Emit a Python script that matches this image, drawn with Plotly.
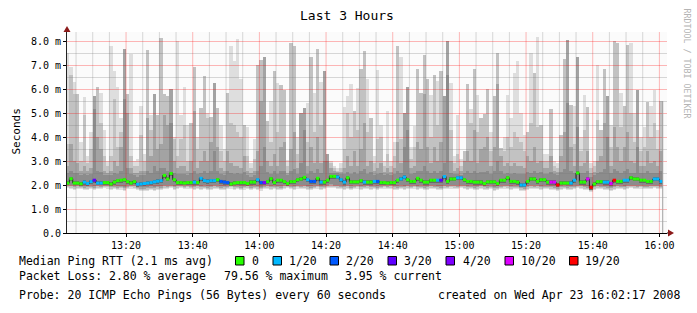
import datetime as dt
import plotly.graph_objects as go

# ---------------- data ----------------
bin_start = dt.datetime(2008, 4, 23, 13, 2, 0)       # first one-minute bin
view_start = dt.datetime(2008, 4, 23, 13, 2, 17)
view_end = dt.datetime(2008, 4, 23, 16, 2, 17)

# lightest smoke top (max ping), ms
ping_max = [7.5, 6.9, 6.3, 5.8, 3.8, 5.65, 3.2, 4.2, 5.7, 6.1,
            5.85, 4.3, 3.0, 7.8, 6.75, 6.1, 4.8, 7.67, 5.8, 7.45,
            3.0, 3.1, 5.3, 3.3, 7.64, 4.9, 5.8, 4.9, 8.12, 5.8,
            5.7, 6.0, 4.0, 8.0, 4.9, 6.1, 4.5, 4.6, 6.9, 4.0,
            5.2, 6.55, 5.0, 4.85, 6.25, 5.2, 4.5, 3.5, 5.85, 7.8,
            7.15, 8.1, 6.4, 4.5, 4.4, 2.9, 3.9, 7.0, 7.2, 7.33,
            4.65, 5.5, 6.75, 6.25, 6.15, 5.95, 3.05, 7.9, 7.8, 4.0,
            5.0, 5.2, 5.4, 7.35, 5.85, 7.65, 6.3, 6.75, 3.3, 3.0,
            2.8, 2.7, 2.9, 5.25, 5.7, 6.2, 5.1, 6.05, 6.85, 7.6,
            6.4, 4.8, 3.2, 6.8, 4.5, 3.0, 5.1, 3.0, 3.8, 7.8,
            7.35, 5.0, 6.1, 3.6, 4.45, 6.85, 5.85, 7.4, 6.4, 5.75,
            6.6, 6.35, 6.75, 5.7, 8.0, 6.25, 3.2, 4.9, 3.1, 3.4,
            6.2, 5.15, 6.85, 5.75, 4.8, 4.95, 6.0, 4.2, 5.7, 7.5,
            3.55, 4.0, 5.75, 4.8, 6.65, 7.15, 5.0, 4.1, 4.2, 7.5,
            6.65, 8.15, 4.5, 3.3, 3.3, 5.15, 3.0, 2.9, 4.1, 7.25,
            8.05, 5.35, 5.3, 7.35, 4.0, 5.75, 5.25, 2.9, 3.0, 7.0,
            4.3, 6.85, 5.7, 4.5, 8.0, 7.9, 5.85, 5.3, 7.85, 7.9,
            5.0, 5.95, 4.0, 4.4, 5.45, 5.3, 5.95, 4.3, 5.5]

# second smoke level top, ms
ping_q2 = [3.7, 6.6, 5.8, 5.8, 3.0, 4.9, 2.9, 3.5, 5.7, 6.1,
           4.6, 3.2, 2.8, 3.2, 5.6, 3.6, 4.2, 7.67, 5.8, 3.2,
           2.8, 2.8, 4.1, 3.0, 7.64, 4.3, 5.8, 4.9, 8.12, 5.8,
           5.7, 6.0, 3.9, 3.2, 3.9, 4.5, 3.0, 4.6, 6.9, 3.5,
           5.2, 6.55, 4.8, 4.85, 6.25, 5.2, 3.4, 3.0, 5.85, 4.6,
           4.5, 4.2, 4.0, 4.5, 3.2, 2.7, 3.1, 7.0, 7.2, 7.33,
           4.65, 3.8, 6.75, 4.2, 6.15, 5.95, 2.8, 7.9, 7.8, 3.3,
           5.0, 5.2, 3.8, 7.35, 4.2, 7.65, 4.5, 6.75, 3.3, 2.9,
           2.7, 2.6, 2.7, 3.5, 5.0, 4.0, 5.1, 4.3, 6.85, 7.6,
           4.2, 4.8, 2.9, 3.9, 4.0, 2.8, 3.3, 2.8, 3.2, 7.8,
           3.9, 5.0, 6.1, 3.1, 3.6, 6.85, 5.85, 7.4, 6.4, 4.0,
           6.6, 4.5, 6.75, 5.7, 8.0, 4.3, 2.9, 3.3, 2.8, 3.4,
           6.2, 4.6, 6.85, 4.2, 4.8, 4.95, 6.0, 3.4, 5.7, 7.5,
           3.55, 3.4, 4.0, 3.6, 4.2, 4.0, 3.8, 3.4, 4.2, 4.6,
           6.65, 4.4, 4.5, 3.0, 3.0, 5.15, 2.8, 2.7, 4.1, 7.25,
           8.05, 5.35, 3.7, 7.35, 3.4, 4.3, 5.25, 2.7, 2.8, 4.7,
           4.3, 6.85, 5.7, 3.6, 8.0, 7.9, 4.4, 5.3, 7.85, 5.0,
           3.8, 5.95, 3.4, 3.6, 5.45, 4.0, 4.6, 3.5, 5.5]

# third smoke level top, ms
ping_q3 = [2.8, 3.7, 3.0, 2.9, 2.6, 2.8, 2.6, 2.7, 5.7, 4.0,
           3.5, 2.6, 2.5, 2.6, 3.0, 2.8, 3.6, 7.67, 5.0, 2.7,
           2.5, 2.5, 2.6, 2.6, 4.8, 3.2, 5.8, 3.5, 3.7, 4.9,
           4.5, 6.0, 3.0, 2.7, 2.8, 2.8, 2.6, 3.0, 5.1, 2.7,
           3.0, 3.4, 3.0, 3.8, 6.25, 3.6, 2.7, 2.6, 3.4, 2.9,
           2.8, 2.8, 2.7, 3.2, 2.6, 2.5, 2.6, 3.4, 5.5, 7.33,
           3.0, 2.8, 3.3, 2.8, 3.6, 3.8, 2.5, 3.5, 4.2, 2.7,
           5.0, 5.2, 2.8, 3.6, 2.9, 4.0, 2.9, 6.75, 3.3, 2.7,
           2.6, 2.55, 2.55, 2.7, 3.2, 2.8, 3.4, 2.8, 3.5, 4.6,
           2.8, 3.0, 2.6, 2.7, 2.9, 2.55, 2.7, 2.55, 2.7, 3.8,
           2.9, 5.0, 6.1, 2.7, 2.8, 3.8, 3.5, 5.8, 3.6, 2.9,
           3.6, 3.0, 3.8, 5.7, 8.0, 3.0, 2.6, 2.7, 2.6, 3.0,
           3.4, 3.0, 4.3, 2.9, 3.5, 3.6, 4.0, 2.8, 3.6, 6.2,
           3.2, 2.8, 2.9, 2.8, 2.9, 2.8, 2.8, 2.7, 3.2, 3.0,
           3.6, 2.9, 3.0, 2.7, 2.7, 3.2, 2.6, 2.55, 3.2, 4.2,
           8.05, 3.6, 2.8, 7.35, 2.8, 2.9, 3.4, 2.5, 2.55, 3.0,
           3.2, 4.6, 5.7, 2.8, 4.4, 3.6, 3.0, 3.6, 4.2, 3.0,
           2.9, 5.95, 2.8, 2.8, 3.4, 2.9, 3.0, 2.8, 3.4]

# darkest smoke level top, ms
ping_q4 = [2.5, 2.6, 2.5, 2.5, 2.4, 2.45, 2.4, 2.45, 5.15, 2.6,
           2.55, 2.4, 2.4, 2.4, 2.5, 2.45, 2.6, 5.6, 2.7, 2.45,
           2.4, 2.35, 2.4, 2.4, 2.6, 2.5, 2.8, 2.6, 2.7, 2.7,
           2.6, 4.6, 2.5, 2.45, 2.45, 2.45, 2.4, 2.5, 2.6, 2.45,
           2.5, 2.6, 2.5, 2.6, 3.4, 2.6, 2.45, 2.4, 2.6, 2.5,
           2.45, 2.5, 2.45, 2.55, 2.4, 2.35, 2.4, 2.6, 2.8, 3.6,
           2.55, 2.45, 2.6, 2.45, 2.6, 2.6, 2.4, 2.6, 2.65, 2.45,
           2.9, 4.3, 2.45, 2.6, 2.5, 2.65, 2.5, 3.0, 3.0, 2.5,
           2.5, 2.5, 2.45, 2.45, 2.55, 2.45, 2.55, 2.45, 2.6, 2.65,
           2.45, 2.55, 2.4, 2.45, 2.5, 2.4, 2.45, 2.4, 2.45, 2.6,
           2.5, 3.6, 4.3, 2.45, 2.5, 2.6, 2.6, 2.8, 2.6, 2.5,
           2.6, 2.5, 2.6, 2.9, 6.6, 2.5, 2.45, 2.45, 2.4, 2.5,
           2.6, 2.5, 2.6, 2.5, 2.55, 2.55, 2.6, 2.45, 2.6, 3.0,
           2.6, 2.45, 2.5, 2.45, 2.5, 2.45, 2.45, 2.45, 2.55, 2.5,
           2.6, 2.5, 2.55, 2.45, 2.45, 2.55, 2.45, 2.4, 2.55, 2.65,
           5.4, 2.6, 2.5, 4.4, 2.5, 2.5, 2.6, 2.35, 2.4, 2.5,
           2.55, 2.65, 4.0, 2.5, 2.65, 2.6, 2.5, 2.6, 2.65, 2.5,
           2.5, 3.6, 2.5, 2.5, 2.6, 2.5, 2.5, 2.5, 2.6]

# lowest ping, ms
ping_min = [1.86, 1.84, 1.8, 1.84, 1.82, 1.78, 1.8, 1.83, 1.79, 1.84,
            1.82, 1.86, 1.85, 1.8, 1.83, 1.78, 1.81, 1.76, 1.82, 1.85,
            1.84, 1.78, 1.75, 1.74, 1.76, 1.78, 1.76, 1.8, 1.78, 1.84,
            1.82, 1.86, 1.8, 1.84, 1.86, 1.83, 1.85, 1.82, 1.8, 1.84,
            1.8, 1.82, 1.78, 1.8, 1.84, 1.83, 1.78, 1.8, 1.82, 1.85,
            1.8, 1.83, 1.78, 1.81, 1.84, 1.79, 1.82, 1.8, 1.77, 1.82,
            1.84, 1.8, 1.83, 1.8, 1.79, 1.84, 1.86, 1.82, 1.8, 1.85,
            1.82, 1.84, 1.8, 1.78, 1.82, 1.85, 1.8, 1.83, 1.86, 1.88,
            1.86, 1.84, 1.82, 1.8, 1.84, 1.78, 1.82, 1.85, 1.8, 1.82,
            1.84, 1.8, 1.82, 1.78, 1.83, 1.85, 1.82, 1.84, 1.8, 1.78,
            1.82, 1.8, 1.84, 1.82, 1.85, 1.8, 1.83, 1.78, 1.8, 1.84,
            1.82, 1.8, 1.78, 1.84, 1.82, 1.85, 1.84, 1.82, 1.86, 1.84,
            1.8, 1.82, 1.78, 1.8, 1.84, 1.8, 1.79, 1.82, 1.76, 1.78,
            1.82, 1.85, 1.84, 1.8, 1.83, 1.82, 1.76, 1.74, 1.8, 1.84,
            1.82, 1.84, 1.8, 1.83, 1.82, 1.8, 1.78, 1.74, 1.8, 1.82,
            1.78, 1.8, 1.82, 1.86, 1.84, 1.8, 1.78, 1.72, 1.8, 1.84,
            1.82, 1.8, 1.78, 1.76, 1.8, 1.84, 1.82, 1.8, 1.84, 1.86,
            1.84, 1.82, 1.85, 1.83, 1.82, 1.84, 1.86, 1.84, 1.82]

# median RTT, ms
median_ms = [2.08, 2.26, 2.08, 2.08, 2.05, 2.12, 2.06, 2.14, 2.2, 2.08,
             2.08, 2.1, 2.1, 2.04, 2.12, 2.18, 2.2, 2.22, 2.14, 2.08,
             2.14, 2.03, 2.04, 2.06, 2.08, 2.1, 2.13, 2.16, 2.18, 2.4,
             2.25, 2.48, 2.22, 2.1, 2.1, 2.08, 2.1, 2.1, 2.12, 2.1,
             2.28, 2.18, 2.16, 2.18, 2.18, 2.22, 2.15, 2.12, 2.1, 2.04,
             2.08, 2.1, 2.1, 2.1, 2.06, 2.12, 2.12, 2.22, 2.1, 2.1,
             2.14, 2.26, 2.1, 2.2, 2.2, 2.14, 2.06, 2.14, 2.14, 2.22,
             2.25, 2.32, 2.22, 2.15, 2.15, 2.28, 2.12, 2.12, 2.2, 2.36,
             2.36, 2.33, 2.22, 2.12, 2.3, 2.13, 2.13, 2.13, 2.18, 2.12,
             2.12, 2.12, 2.15, 2.15, 2.1, 2.1, 2.08, 2.1, 2.1, 2.2,
             2.25, 2.33, 2.22, 2.15, 2.15, 2.28, 2.2, 2.12, 2.12, 2.2,
             2.2, 2.2, 2.2, 2.35, 2.15, 2.25, 2.25, 2.3, 2.3, 2.22,
             2.15, 2.15, 2.12, 2.12, 2.12, 2.06, 2.13, 2.13, 2.13, 2.06,
             2.2, 2.2, 2.3, 2.15, 2.15, 2.12, 2.0, 2.0, 2.15, 2.25,
             2.25, 2.15, 2.22, 2.22, 2.12, 2.12, 2.12, 2.0, 2.08, 2.08,
             2.08, 2.08, 2.2, 2.5, 2.12, 2.12, 2.25, 1.9, 2.04, 2.14,
             2.14, 2.12, 2.12, 2.06, 2.2, 2.15, 2.15, 2.2, 2.2, 2.3,
             2.25, 2.25, 2.2, 2.2, 2.15, 2.15, 2.25, 2.25, 2.15]

# packet-loss class per minute (index into loss_labels)
loss_idx = [0, 0, 0, 0, 0, 1, 1, 1, 3, 1,
            1, 0, 0, 0, 0, 0, 0, 0, 0, 0,
            0, 1, 1, 1, 1, 1, 1, 1, 1, 0,
            0, 0, 0, 0, 0, 0, 0, 0, 1, 0,
            1, 1, 1, 1, 1, 0, 2, 2, 2, 0,
            0, 0, 0, 0, 0, 0, 0, 1, 2, 4,
            0, 0, 0, 0, 0, 0, 0, 0, 0, 0,
            0, 0, 1, 2, 2, 0, 1, 0, 0, 0,
            0, 1, 1, 1, 0, 0, 0, 0, 0, 1,
            0, 0, 1, 2, 0, 0, 0, 0, 0, 0,
            1, 1, 0, 0, 0, 0, 0, 0, 0, 0,
            0, 1, 3, 1, 0, 0, 0, 1, 1, 0,
            0, 0, 0, 0, 0, 0, 0, 0, 0, 0,
            0, 0, 0, 0, 0, 0, 1, 1, 0, 0,
            0, 0, 0, 0, 0, 5, 5, 6, 0, 0,
            0, 1, 1, 0, 0, 0, 5, 6, 0, 0,
            0, 1, 1, 5, 6, 0, 0, 1, 1, 0,
            0, 0, 0, 0, 0, 0, 1, 1, 1]

loss_labels = ["0", "1/20", "2/20", "3/20", "4/20", "10/20", "19/20"]
loss_colors = ["#26ff00", "#00b8ff", "#0059ff", "#5e00ff", "#7e00ff", "#dd00ff", "#ff0000"]

y_tick_vals = [0, 1, 2, 3, 4, 5, 6, 7, 8]
y_tick_text = ["0.0", "1.0 m", "2.0 m", "3.0 m", "4.0 m", "5.0 m", "6.0 m", "7.0 m", "8.0 m"]
x_tick_text = ["13:20", "13:40", "14:00", "14:20", "14:40", "15:00", "15:20", "15:40", "16:00"]

# ---------------- layout geometry ----------------
W, H = 697, 313
L, R, T, B = 67, 30, 32, 80
PW, PH = W - L - R, H - T - B
Y_MAX = PH / 24.0
MONO = "DejaVu Sans Mono"


def fx(X):
    return (X - L) / PW


def fy(Y):
    return (T + PH - Y) / PH


n = len(ping_max)
minute = dt.timedelta(minutes=1)
centers = [bin_start + minute * i + dt.timedelta(seconds=30) for i in range(n)]
starts = [bin_start + minute * i for i in range(n)]
ends = [bin_start + minute * (i + 1) for i in range(n)]

fig = go.Figure()

# smoke layers (light to dark)
layers = [
    (ping_min, ping_max, 0.00, "#dedede"),
    (ping_min, ping_q2, 0.05, "#c2c2c2"),
    (ping_min, ping_q3, 0.10, "#a3a3a3"),
    (ping_min, ping_q4, 0.16, "#8c8c8c"),
]
for lo, hi, off, col in layers:
    base = [a + off for a in lo]
    fig.add_trace(go.Bar(x=centers, y=[h - b for h, b in zip(hi, base)], base=base,
                         width=60000, marker=dict(color=col, line=dict(width=0)),
                         hoverinfo="skip", showlegend=False))
core_base = [m - 0.1 for m in median_ms]
fig.add_trace(go.Bar(x=centers, y=[0.17] * n, base=core_base, width=60000,
                     marker=dict(color="#6a6a6a", line=dict(width=0)),
                     hoverinfo="skip", showlegend=False))

# grid lines (drawn above smoke, as in rrdtool)
minor_col = "rgba(120,120,120,0.28)"
major_col = "rgba(255,0,0,0.28)"
half_px = 1.0 / 48.0
for is_major in (False, True):
    gx, gy = [], []
    for k in range(1, 17):
        v = k * 0.5
        if (k % 2 == 0) == is_major:
            gx += [view_start, view_end, None]
            gy += [v - half_px, v - half_px, None]
    t = dt.datetime(2008, 4, 23, 13, 5, 0)
    while t <= view_end:
        major = (t.minute % 20 == 0)
        if major == is_major:
            gx += [t, t, None]
            gy += [0, Y_MAX, None]
        t += dt.timedelta(minutes=5)
    fig.add_trace(go.Scatter(x=gx, y=gy, mode="lines",
                             line=dict(color=major_col if is_major else minor_col, width=1),
                             hoverinfo="skip", showlegend=False))

# thin dark step line under the coloured median
sx, sy = [], []
for i in range(n):
    sx += [starts[i], ends[i]]
    sy += [median_ms[i], median_ms[i]]
fig.add_trace(go.Scatter(x=sx, y=sy, mode="lines", line=dict(color="#202020", width=1),
                         hoverinfo="skip", showlegend=False))

# coloured median segments by loss class
for ci, col in enumerate(loss_colors):
    mx, my = [], []
    for i in range(n):
        if loss_idx[i] == ci:
            mx += [starts[i], ends[i], None]
            my += [median_ms[i], median_ms[i], None]
    if mx:
        fig.add_trace(go.Scatter(x=mx, y=my, mode="lines", line=dict(color=col, width=3),
                                 hoverinfo="skip", showlegend=False))

# grey vertical at the end of the data
fig.add_trace(go.Scatter(x=[ends[-1], ends[-1]], y=[0, ping_max[-1]], mode="lines",
                         line=dict(color="#a0a0a0", width=1), hoverinfo="skip", showlegend=False))

x_tick_vals = [dt.datetime(2008, 4, 23, 13, 20) + dt.timedelta(minutes=20 * i) for i in range(len(x_tick_text))]

fig.update_layout(
    width=W, height=H, margin=dict(l=L, r=R, t=T, b=B, pad=0),
    paper_bgcolor="white", plot_bgcolor="#fbfbfb",
    barmode="overlay", bargap=0, showlegend=False,
    font=dict(family=MONO, size=10, color="black"),
    xaxis=dict(type="date", range=[view_start, view_end], tickvals=x_tick_vals, ticktext=x_tick_text,
               showgrid=False, zeroline=False, showline=True, linecolor="black", linewidth=1,
               ticks="outside", ticklen=3, tickcolor="black", tickfont=dict(family=MONO, size=10),
               fixedrange=True, layer="above traces"),
    yaxis=dict(range=[0, Y_MAX], tickvals=y_tick_vals, ticktext=y_tick_text,
               showgrid=False, zeroline=False, showline=True, linecolor="#222222", linewidth=1,
               ticks="outside", ticklen=3, tickcolor="black", tickfont=dict(family=MONO, size=10),
               fixedrange=True, layer="above traces"),
)

shapes = []
arrow_col = "#8b1a1a"
# axis extensions + arrow heads
shapes.append(dict(type="line", xref="paper", yref="paper", x0=fx(667), x1=fx(669), y0=fy(233), y1=fy(233),
                   line=dict(color="black", width=1)))
shapes.append(dict(type="path", xref="paper", yref="paper",
                   path=f"M {fx(668)} {fy(229.5)} L {fx(674)} {fy(233)} L {fx(668)} {fy(236.5)} Z",
                   fillcolor=arrow_col, line=dict(width=0)))
shapes.append(dict(type="path", xref="paper", yref="paper",
                   path=f"M {fx(63.5)} {fy(32)} L {fx(67)} {fy(26)} L {fx(70.5)} {fy(32)} Z",
                   fillcolor=arrow_col, line=dict(width=0)))

annotations = []


def text(X, Y, s, size=11.5, anchor="left", color="black", angle=0):
    annotations.append(dict(x=fx(X), y=fy(Y), xref="paper", yref="paper", text=s.replace(" ", "\u00a0"),
                            showarrow=False, xanchor=anchor, yanchor="middle", textangle=angle,
                            font=dict(family=MONO, size=size, color=color)))


text(347, 16, "Last 3 Hours", size=13, anchor="center")
text(15.5, 132, "Seconds", size=11, anchor="center", angle=-90)
text(686.5, 63, "RRDTOOL / TOBI OETIKER", size=8.3, anchor="center", color="#b4b4b4", angle=90)

text(16.5, 261, "Median Ping RTT (2.1 ms avg)")
box_x = [235.5, 273, 330, 388, 446, 505, 569.5]
lab_x = [250, 286.5, 343.5, 402, 460.5, 518.5, 583]
for bx, lx, lab, col in zip(box_x, lab_x, loss_labels, loss_colors):
    shapes.append(dict(type="rect", xref="paper", yref="paper", x0=fx(bx), x1=fx(bx + 8.5),
                       y0=fy(265), y1=fy(256.5), fillcolor=col, line=dict(color="black", width=1)))
    text(lx, 261, lab)

text(16.5, 276, "Packet Loss: 2.80 % average")
text(221.5, 276, "79.56 % maximum")
text(343, 276, "3.95 % current")
text(16.5, 295, "Probe: 20 ICMP Echo Pings (56 Bytes) every 60 seconds")
text(682, 295, "created on Wed Apr 23 16:02:17 2008", anchor="right")

fig.update_layout(shapes=shapes, annotations=annotations)
fig.write_html("out.html")
